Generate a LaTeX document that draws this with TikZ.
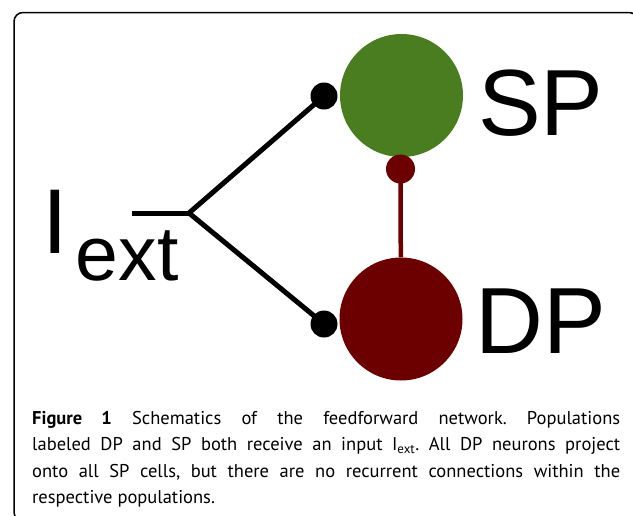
\documentclass[tikz,border=0pt]{standalone}
\usepackage{fontspec}
\setmainfont{PT Sans}
\newfontfamily\labelfont{Liberation Sans}
\definecolor{spgreen}{RGB}{73,125,31}
\definecolor{dpred}{RGB}{108,0,0}

\begin{document}
\begin{tikzpicture}[x=1pt, y=-1pt,
    pop/.style={circle, minimum size=123pt, inner sep=0pt},
    syndot/.style={circle, fill=black, minimum size=27pt, inner sep=0pt},
    reddot/.style={circle, fill=dpred, minimum size=29pt, inner sep=0pt},
    wire/.style={line width=5pt, black},
    redwire/.style={line width=4.5pt, dpred},
    poplabel/.style={anchor=base west, inner sep=0pt, font=\labelfont\fontsize{94}{94}\selectfont}]

        \useasboundingbox (0,0) rectangle (633,515);
        \clip (0,0) rectangle (633,515);

        % Frame
        \draw[line width=1.5pt, rounded corners=9pt] (14,12.5) rectangle (638,521);

        % Input
        \coordinate (inp) at (132,213);
        \coordinate (fork) at (189,213);
        \node[anchor=base west, inner sep=0pt] (iext) at (42,253)
            {\labelfont\fontsize{92}{92}\selectfont I\kern8pt\raisebox{-27pt}{\fontsize{77}{77}\selectfont ext}};

        % Populations
        \node[syndot] (sdot) at (324,96) {};
        \node[syndot] (ddot) at (324,324) {};
        \draw[wire] (inp) -- (fork);
        \draw[wire] (fork) -- (sdot.center);
        \draw[wire] (fork) -- (ddot.center);
        \node[pop, fill=spgreen] (SP) at (401.5,95.5) {};
        \node[pop, fill=dpred] (DP) at (401,319) {};
        \node[reddot] (rdot) at (400.5,169) {};
        \draw[redwire] (rdot.center) -- (DP);

        \node[poplabel] (splabel) at (478,135) {SP};
        \node[poplabel] (dplabel) at (475.5,353) {DP};

        % Caption
        \node[anchor=base west, inner sep=0pt, text width=588pt, align=justify,
              font=\fontsize{18.5}{26.5}\selectfont] (caption) at (32,424)
            {\frenchspacing\textbf{Figure 1} Schematics of the feedforward network. Populations\linebreak
             labeled DP and SP both receive an input I\textsubscript{ext}. All DP neurons project\linebreak
             onto all SP cells, but there are no recurrent connections within the\linebreak
             respective populations.};
    \end{tikzpicture}
\end{document}
